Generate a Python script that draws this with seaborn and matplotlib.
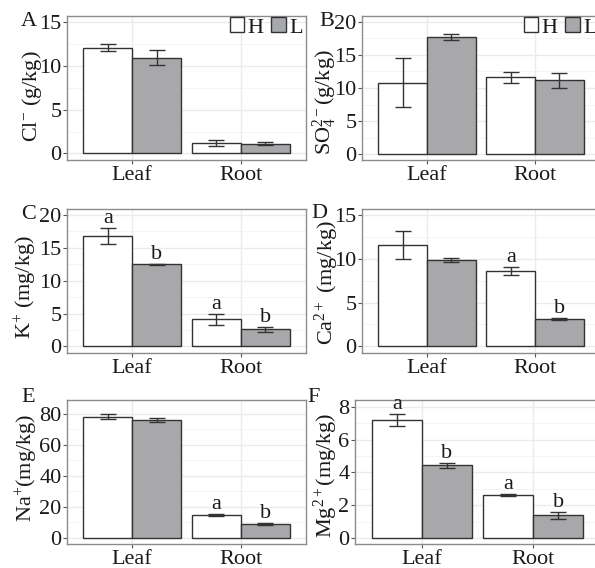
import matplotlib
matplotlib.use("Agg")
import matplotlib.pyplot as plt
from matplotlib.patches import Rectangle
from matplotlib.ticker import MultipleLocator
import seaborn as sns
import pandas as pd

sns.set_theme(style="white")
plt.rcParams['font.family'] = ['Liberation Serif', 'DejaVu Serif']
plt.rcParams['mathtext.fontset'] = 'custom'
plt.rcParams['mathtext.rm'] = 'Liberation Serif'
plt.rcParams['mathtext.it'] = 'Liberation Serif:italic'
plt.rcParams['mathtext.default'] = 'rm'

# ---------------- data ----------------
tissues = ["Leaf", "Root"]
treatments = ["H", "L"]

cl_H = [12.1, 1.2];   cl_H_err = [0.40, 0.32]
cl_L = [10.95, 1.1];  cl_L_err = [0.90, 0.18]

so4_H = [10.8, 11.6];   so4_H_err = [3.70, 0.78]
so4_L = [17.65, 11.15]; so4_L_err = [0.45, 1.13]

k_H = [16.8, 4.15]; k_H_err = [1.25, 0.85]
k_L = [12.5, 2.6];  k_L_err = [0.10, 0.35]

ca_H = [11.55, 8.6]; ca_H_err = [1.58, 0.50]
ca_L = [9.87, 3.1];  ca_L_err = [0.23, 0.13]

na_H = [78.2, 14.8]; na_H_err = [1.5, 0.6]
na_L = [75.9, 9.0];  na_L_err = [1.3, 0.6]

mg_H = [7.2, 2.63]; mg_H_err = [0.36, 0.07]
mg_L = [4.45, 1.38]; mg_L_err = [0.15, 0.22]

# significance letters [Leaf, Root] per treatment
k_let_H = ["a", "a"];   k_let_L = ["b", "b"]
ca_let_H = ["", "a"];   ca_let_L = ["", "b"]
na_let_H = ["", "a"];   na_let_L = ["", "b"]
mg_let_H = ["a", "a"];  mg_let_L = ["b", "b"]
no_let = ["", ""]

ylabels = {
    "A": r"Cl$^{-}$ (g/kg)",
    "B": r"SO$_4^{2-}$(g/kg)",
    "C": r"K$^{+}$ (mg/kg)",
    "D": r"Ca$^{2+}$ (mg/kg)",
    "E": r"Na$^{+}$(mg/kg)",
    "F": r"Mg$^{2+}$(mg/kg)",
}

panels = [
    ("A", cl_H, cl_H_err, cl_L, cl_L_err, no_let, no_let, (-0.75, 15.7), [0, 5, 10, 15],
     (67, 306, 16, 160), (-0.148, 0.44), (21, 12), True),
    ("B", so4_H, so4_H_err, so4_L, so4_L_err, no_let, no_let, (-0.9, 20.9), [0, 5, 10, 15, 20],
     (362, 600, 16, 160), (-0.155, 0.40), (319, 12), True),
    ("C", k_H, k_H_err, k_L, k_L_err, k_let_H, k_let_L, (-1.0, 20.9), [0, 5, 10, 15, 20],
     (67, 306, 209, 353), (-0.17, 0.455), (21, 205), False),
    ("D", ca_H, ca_H_err, ca_L, ca_L_err, ca_let_H, ca_let_L, (-0.76, 15.68), [0, 5, 10, 15],
     (362, 600, 209, 353), (-0.147, 0.486), (311, 204), False),
    ("E", na_H, na_H_err, na_L, na_L_err, na_let_H, na_let_L, (-3.9, 89.0), [0, 20, 40, 60, 80],
     (67, 306, 400, 544), (-0.167, 0.53), (21, 388), False),
    ("F", mg_H, mg_H_err, mg_L, mg_L_err, mg_let_H, mg_let_L, (-0.36, 8.42), [0, 2, 4, 6, 8],
     (355, 600, 400, 544), (-0.118, 0.476), (307, 388), False),
]

W, H = 595, 568
fig = plt.figure(figsize=(W / 100, H / 100), dpi=100)
fig.patch.set_facecolor("white")

FS = 16
TXT = "#1a1a1a"
palette = {"H": "white", "L": "#A7A8AB"}

for (tag, vH, eH, vL, eL, lH, lL, ylim, ticks, rect, labxy, tagxy, show_leg) in panels:
    l, r, t, b = rect
    ax = fig.add_axes([l / W, 1 - b / H, (r - l) / W, (b - t) / H])
    df = pd.DataFrame({
        "Tissue": tissues * 2,
        "Treatment": ["H"] * 2 + ["L"] * 2,
        "value": list(vH) + list(vL),
    })
    sns.barplot(data=df, x="Tissue", y="value", hue="Treatment", order=tissues,
                hue_order=treatments, palette=palette, edgecolor="#333333",
                linewidth=1.0, width=0.9, errorbar=None, legend=False, ax=ax, zorder=3)
    errs = {"H": eH, "L": eL}
    lets = {"H": lH, "L": lL}
    for cont, trt in zip(ax.containers, treatments):
        for i, bar in enumerate(cont):
            x = bar.get_x() + bar.get_width() / 2
            y = bar.get_height()
            ax.errorbar(x, y, yerr=errs[trt][i], fmt="none", ecolor="#333333",
                        elinewidth=1.0, capsize=6, capthick=1.0, zorder=4)
            if lets[trt][i]:
                ax.annotate(lets[trt][i], (x, y + errs[trt][i]), xytext=(0, 3.5),
                            textcoords="offset points", ha="center", va="baseline",
                            fontsize=FS, color=TXT)
    ax.set_xlim(-0.6, 1.6)
    ax.set_ylim(*ylim)
    ax.set_yticks(ticks)
    step = ticks[1] - ticks[0]
    ax.yaxis.set_minor_locator(MultipleLocator(step / 2))
    ax.grid(True, which="major", color="#EBEBEB", linewidth=1.0, zorder=0)
    ax.grid(True, which="minor", axis="y", color="#F2F2F2", linewidth=0.6, zorder=0)
    ax.set_axisbelow(True)
    ax.set_facecolor("white")
    for s in ax.spines.values():
        s.set_color("#8c8c8c")
        s.set_linewidth(1.0)
    ax.tick_params(axis="both", which="major", length=3, width=0.8, color="#555555",
                   labelsize=FS, labelcolor=TXT, pad=1.0)
    ax.tick_params(axis="y", which="minor", length=0)
    ax.tick_params(left=True, bottom=True)
    ax.set_xlabel("")
    ax.set_ylabel(ylabels[tag], fontsize=FS, color=TXT, va="center", ha="center")
    ax.yaxis.set_label_coords(labxy[0], labxy[1])
    fig.text(tagxy[0] / W, 1 - tagxy[1] / H, tag, fontsize=FS, color=TXT,
             ha="left", va="top")
    if show_leg:
        handles = [Rectangle((0, 0), 1, 1, facecolor=palette[t_], edgecolor="#333333",
                             linewidth=1.0) for t_ in treatments]
        ax.legend(handles, treatments, loc="upper right", bbox_to_anchor=(0.985, 0.99),
                  ncol=2, frameon=False, fontsize=FS, handlelength=0.65,
                  handleheight=0.65, handletextpad=0.15, columnspacing=0.35,
                  borderpad=0.0, borderaxespad=0.0, labelcolor=TXT)

fig.savefig("out.png", dpi=100, facecolor="white")
